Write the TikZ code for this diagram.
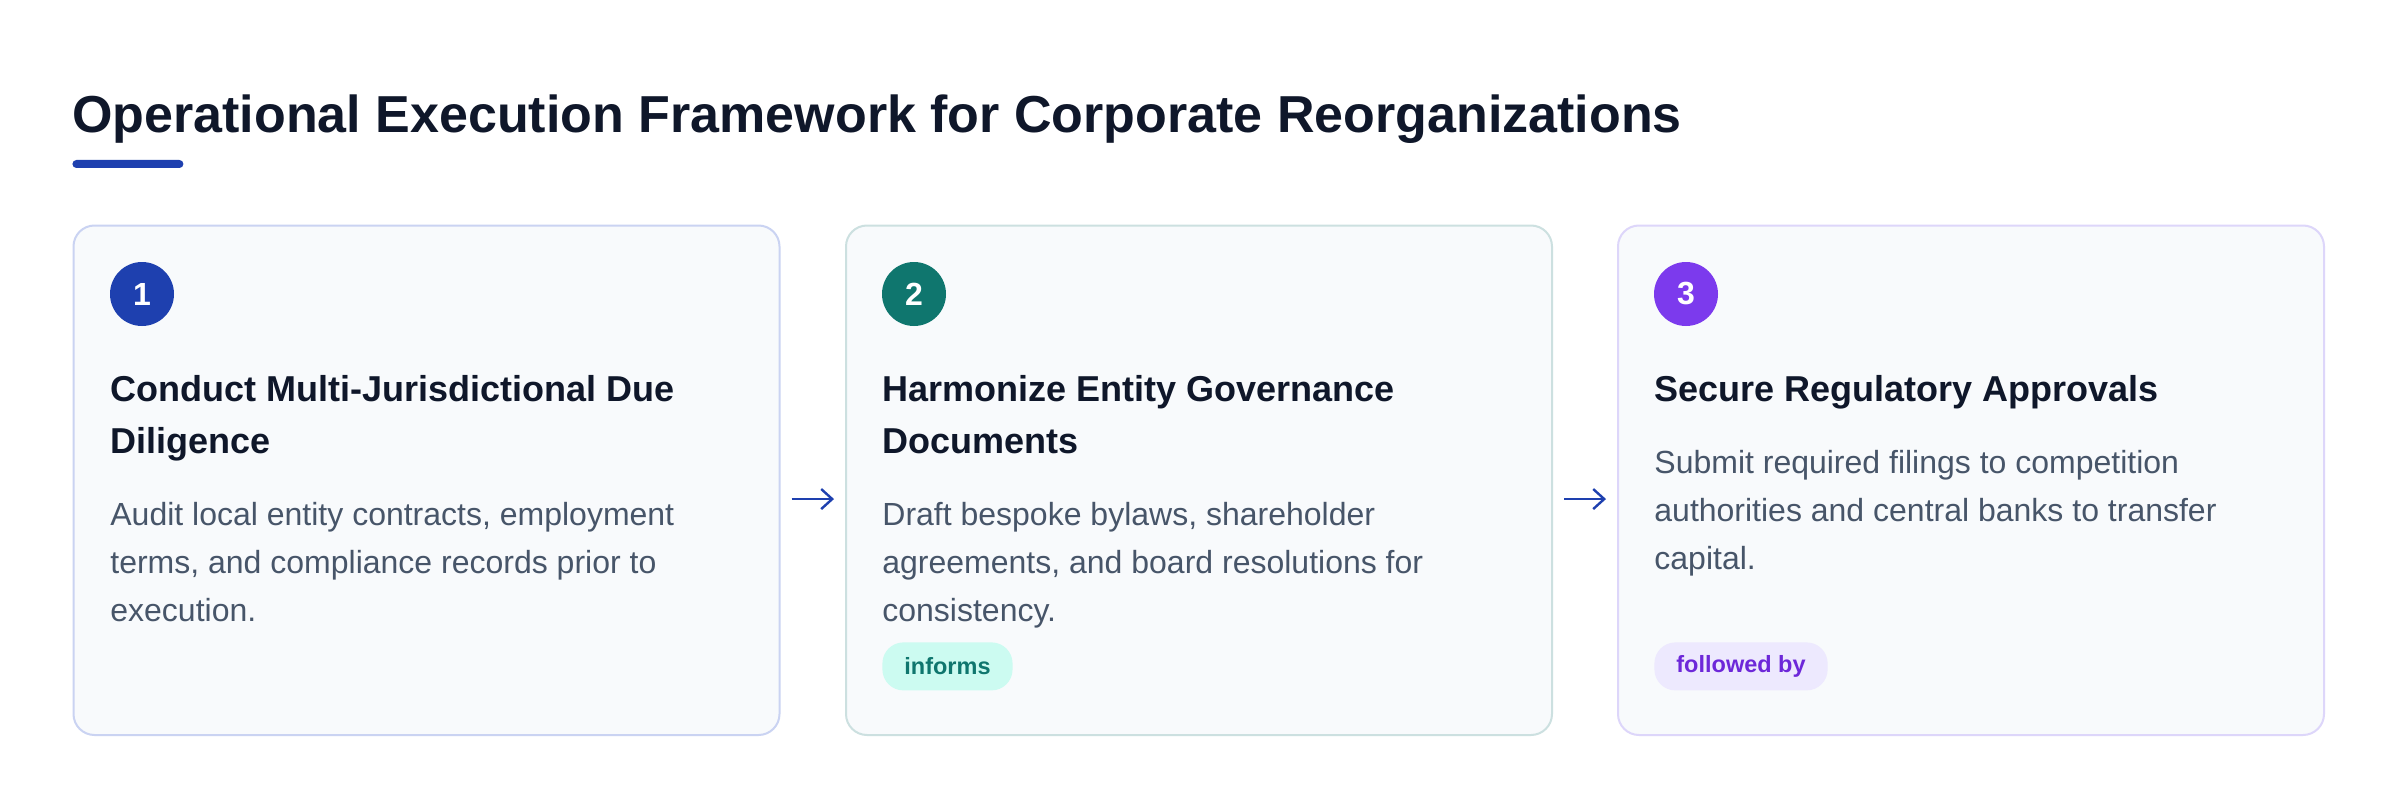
\documentclass[tikz,border=0pt]{standalone}
\usepackage{fontspec}
\setmainfont{Liberation Sans}
\usetikzlibrary{arrows.meta}
\definecolor{ink}{HTML}{0F172A}
\definecolor{bodyc}{HTML}{475569}
\definecolor{blueA}{HTML}{1E40AF}
\definecolor{tealA}{HTML}{0F766E}
\definecolor{purpA}{HTML}{7C3AED}
\definecolor{cardbg}{HTML}{F8FAFC}
\definecolor{bdblue}{HTML}{CAD3F2}
\definecolor{bdteal}{HTML}{CCE0E0}
\definecolor{bdpurp}{HTML}{DDD6FA}
\definecolor{tealbg}{HTML}{CCFBF1}
\definecolor{purpbg}{HTML}{EDE9FE}
\definecolor{purptx}{HTML}{6D28D9}
\tikzset{
  card/.style={rectangle, rounded corners=10.5pt, fill=cardbg, line width=1pt,
    minimum width=353pt, minimum height=254.75pt, anchor=north west, inner sep=0pt},
  numc/.style={circle, minimum size=32pt, inner sep=0pt, text=white,
    font=\fontsize{16}{19}\selectfont\bfseries},
  headtxt/.style={anchor=north west, inner sep=0pt, align=left, text=ink,
    font=\fontsize{18}{26}\selectfont\bfseries},
  bodytxt/.style={anchor=north west, inner sep=0pt, align=left, text=bodyc,
    font=\fontsize{16}{24}\selectfont},
  badge/.style={anchor=north west, rounded corners=10.5pt, minimum height=24pt,
    inner xsep=11pt, inner ysep=0pt, font=\fontsize{11.75}{14}\selectfont\bfseries},
  arr/.style={draw=blueA, line width=1.1pt, -{Straight Barb[length=5.5pt,width=10pt,line width=1.2pt]},
    shorten <=5.5pt, shorten >=5.5pt}
}
\begin{document}
\begin{tikzpicture}[x=0.5pt,y=-0.5pt]
\useasboundingbox[fill=white] (0,0) rectangle (2400,808);
% title
\node[anchor=base west, inner sep=0pt, text=ink, font=\fontsize{26}{30}\selectfont\bfseries] (title) at (72,133)
  {Operational Execution Framework for Corporate Reorganizations};
\node[fill=blueA, rounded corners=2pt, minimum width=55.5pt, minimum height=4pt, inner sep=0pt, anchor=west] (bar) at (72,164) {};
% cards
\node[card, draw=bdblue] (c1) at (72.5,224.5) {};
\node[card, draw=bdteal] (c2) at (845,224.5) {};
\node[card, draw=bdpurp] (c3) at (1617,224.5) {};
% numbers
\node[numc, fill=blueA] (n1) at (142,294) {1};
\node[numc, fill=tealA] (n2) at (914,294) {2};
\node[numc, fill=purpA] (n3) at (1686,294) {3};
% headings
\node[headtxt] (h1) at (110,374.7) {Conduct Multi-Jurisdictional Due\\Diligence};
\node[headtxt] (h2) at (882,374.7) {Harmonize Entity Governance\\Documents};
\node[headtxt] (h3) at (1654,374.7) {Secure Regulatory Approvals};
% bodies
\node[bodytxt] (b1) at (110,501.6) {Audit local entity contracts, employment\\terms, and compliance records prior to\\execution.};
\node[bodytxt] (b2) at (882,501.6) {Draft bespoke bylaws, shareholder\\agreements, and board resolutions for\\consistency.};
\node[bodytxt] (b3) at (1654,450) {Submit required filings to competition\\authorities and central banks to transfer\\capital.};
% badges
\node[badge, fill=tealbg, text=tealA] (t2) at (882,642) {informs};
\node[badge, fill=purpbg, text=purptx] (t3) at (1654,642) {followed by};
% arrows
\draw[arr] ([yshift=-9.4pt]c1.east) -- ([yshift=-9.4pt]c2.west);
\draw[arr] ([yshift=-9.4pt]c2.east) -- ([yshift=-9.4pt]c3.west);
\end{tikzpicture}
\end{document}
